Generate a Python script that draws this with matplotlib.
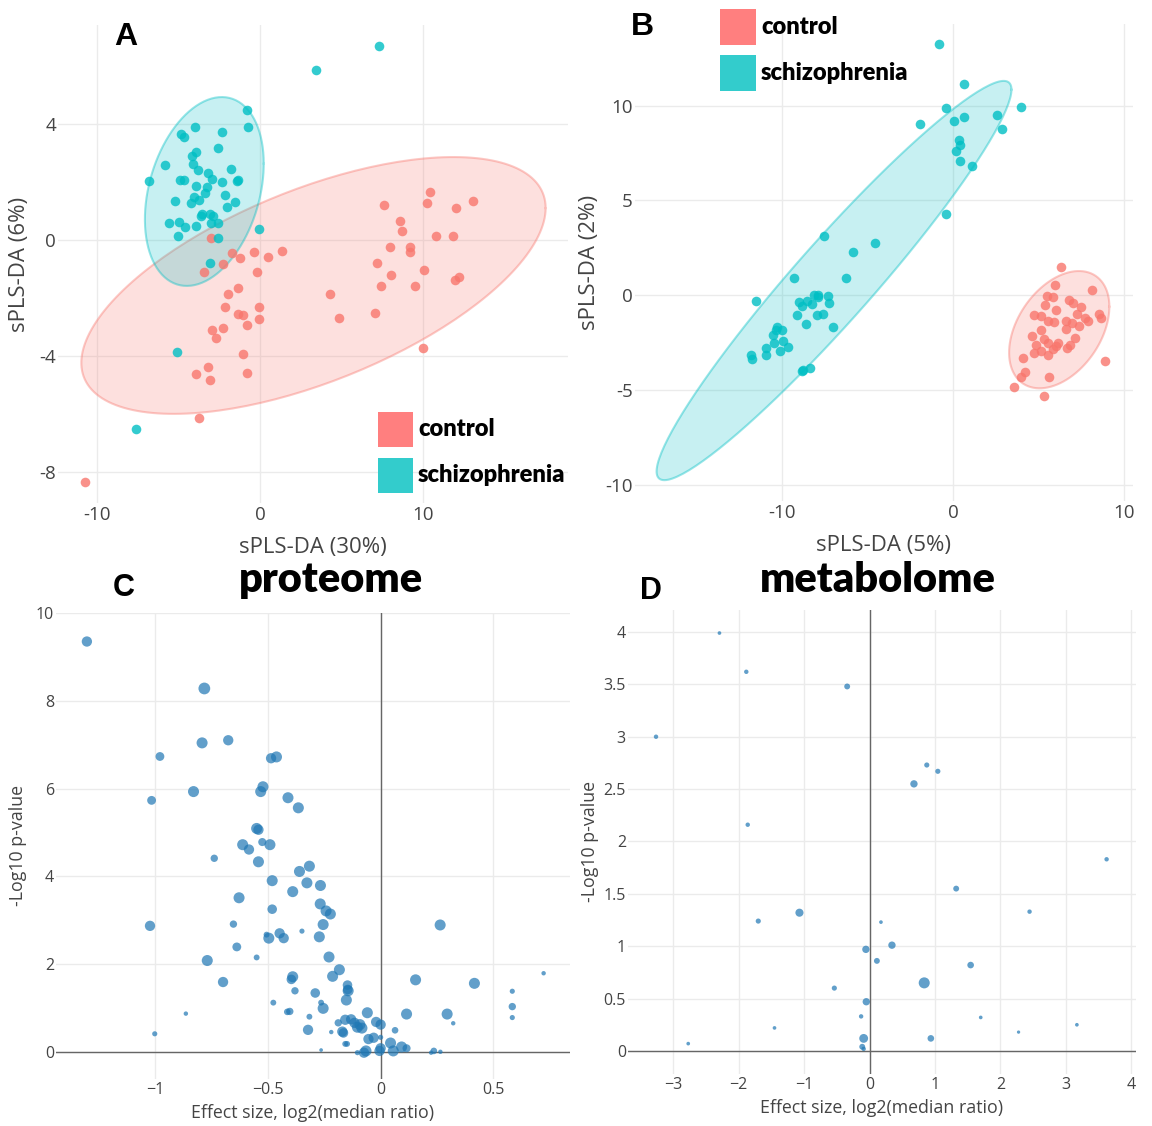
import numpy as np
import matplotlib
matplotlib.use("Agg")
import matplotlib.pyplot as plt
from matplotlib.patches import Rectangle

# ---- data ----
# panel A: sPLS-DA proteome
a_ctrl_x = [-10.73, -3.77, -3.95, -3.2, -3.07, -0.77, -1.06, -2.93, -2.68, -2.25, -2.14, -1.96, -1.38, -1.35,
            -1.04, -0.83, -0.05, -0.07, -0.18, -0.38, 0.47, 1.35, -1.2, -1.71, -2.25, -3.43, -3.04, 4.28, 4.87,
            7.08, 7.17, 7.44, 7.62, 8.0, 8.05, 8.57, 8.73, 9.18, 9.22, 9.54, 9.99, 10.08, 10.24, 10.42, 10.82,
            11.84, 12.02, 11.95, 12.2, 13.08]
a_ctrl_y = [-8.33, -6.13, -4.63, -4.38, -4.82, -4.59, -3.93, -3.09, -3.37, -3.02, -2.31, -1.85, -1.67, -2.57,
            -2.6, -2.95, -2.31, -2.71, -1.11, -0.41, -0.59, -0.38, -0.62, -0.46, -0.84, -1.1, 0.05, -1.87, -2.68,
            -2.51, -0.8, -1.59, 1.22, -0.25, -1.21, 0.65, 0.3, -0.25, -0.43, -1.58, -3.74, -1.02, 1.27, 1.65, 0.12,
            0.12, 1.1, -1.39, -1.27, 1.34]
a_scz_x = [7.33, 3.43, -7.64, -5.1, -6.83, -5.84, -5.19, -5.57, -5.03, -4.98, -4.92, -4.67, -4.85, -4.67, -3.99,
           -4.15, -3.9, -4.13, -3.81, -3.92, -4.22, -4.08, -3.77, -3.4, -3.25, -3.22, -2.95, -3.61, -3.54, -3.09,
           -2.86, -3.02, -2.57, -4.62, -3.95, -2.59, -2.32, -2.35, -2.16, -2.03, -1.8, -1.51, -1.4, -1.33, -0.79,
           -0.74, -0.05, -2.59, -3.07]
a_scz_y = [6.67, 5.86, -6.52, -3.86, 2.03, 2.6, 1.34, 0.59, 0.12, 0.62, 2.08, 2.08, 3.64, 3.54, 3.88, 2.88, 3.04,
           2.62, 2.41, 1.86, 1.29, 1.48, 1.39, 1.62, 1.82, 2.31, 2.1, 0.82, 0.89, 0.89, 0.82, 0.58, 0.58, 0.46,
           0.48, 3.16, 3.72, 1.98, 1.56, 1.12, 2.45, 1.3, 2.02, 2.06, 4.48, 3.88, 0.38, 0.06, -0.78]
a_ctrl_ell = ([3.28, -1.57], [[203.0, 38.0], [38.0, 19.6]])
a_scz_ell = ([-3.42, 1.67], [[13.3, 3.5], [3.5, 10.6]])

# panel B: sPLS-DA metabolome
b_ctrl_x = [6.31, 5.92, 8.09, 5.45, 5.84, 5.36, 6.78, 7.0, 7.47, 5.99, 7.23, 4.72, 5.15, 5.56, 5.88, 6.59, 6.91,
            7.34, 7.7, 7.87, 8.52, 8.61, 6.59, 5.15, 4.59, 5.28, 7.12, 5.56, 6.14, 6.8, 4.83, 5.99, 6.63, 5.84,
            5.11, 4.7, 5.56, 4.08, 8.88, 4.21, 3.95, 5.58, 3.52, 5.28]
b_ctrl_y = [1.47, 0.53, 0.3, -0.06, -0.09, -0.51, -0.23, -0.43, -0.6, -0.75, -0.98, -1.02, -1.07, -1.36, -1.41,
            -1.36, -1.45, -1.64, -1.17, -1.36, -0.98, -1.19, -1.77, -1.85, -2.15, -2.32, -2.26, -2.52, -2.5, -2.64,
            -2.64, -2.67, -2.79, -2.82, -2.96, -3.05, -3.14, -3.28, -3.47, -4.05, -4.29, -4.33, -4.84, -5.31]
b_scz_x = [-0.86, 0.62, -0.45, 3.95, 0.04, 0.6, 2.58, 2.83, -1.93, 0.34, 0.39, 0.17, 0.39, 1.07, -0.45, -7.55,
           -4.55, -5.86, -6.29, -9.33, -11.52, -9.01, -8.84, -8.56, -8.24, -8.13, -7.88, -7.9, -7.32, -7.25, -9.12,
           -8.58, -7.94, -7.64, -7.04, -10.28, -10.0, -10.36, -10.56, -10.47, -9.98, -9.68, -10.97, -10.97,
           -10.13, -11.82, -11.74, -8.76, -8.39, -8.84]
b_scz_y = [13.24, 11.15, 9.87, 9.92, 9.17, 9.42, 9.53, 8.76, 9.02, 8.19, 7.91, 7.61, 7.08, 6.84, 4.29, 3.13, 2.77,
           2.3, 0.92, 0.89, -0.32, -0.34, -0.56, -0.28, -0.45, 0.04, 0.0, -0.11, -0.04, -0.43, -1.02, -1.51, -1.02,
           -0.96, -1.66, -1.69, -1.83, -1.85, -2.11, -2.52, -2.39, -2.73, -2.77, -3.14, -2.92, -3.14, -3.37, -3.94,
           -3.84, -3.99]
b_ctrl_ell = ([6.19, -1.81], [[8.58, 3.55], [3.55, 9.55]])
b_scz_ell = ([-6.97, 0.78], [[107.5, 104.3], [104.3, 110.7]])

groups = ["control", "schizophrenia"]

# panel C: proteome volcano (effect, -log10 p, bubble size)
c_x = [-1.303, -0.782, -0.792, -0.676, -0.979, -0.486, -0.462, -0.83, -1.016, -0.522, -0.532, -0.411, -0.365,
       -0.55, -0.542, -0.612, -0.584, -0.525, -0.491, -0.738, -0.542, -0.316, -0.36, -0.481, -0.327, -0.267,
       -0.39, -0.628, -0.481, -0.268, -0.242, -0.223, -0.653, -0.255, -1.023, -0.349, -0.448, -0.496, -0.43,
       -0.506, -0.272, -0.638, -0.55, -0.229, -0.769, -0.183, -0.213, -0.39, -0.396, -0.699, -0.147, -0.144,
       -0.146, -0.38, -0.29, -0.152, -0.476, -0.264, -0.255, -0.403, -0.414, -0.864, -0.059, 0.115, 0.295,
       -0.316, -0.188, -0.157, -0.131, -0.116, -0.092, -0.103, -0.083, -0.02, 0.0, -0.17, -0.165, -0.322, -0.219,
       0.064, 0.322, -1.002, -0.054, -0.031, -0.157, -0.149, 0.044, 0.093, 0.115, 0.0, -0.005, 0.056, -0.065,
       -0.074, -0.103, 0.0, 0.236, 0.224, 0.265, -0.264, 0.155, 0.264, 0.416, 0.584, 0.584, 0.584, 0.723]
c_y = [9.35, 8.28, 7.04, 7.1, 6.73, 6.69, 6.72, 5.93, 5.73, 6.04, 5.93, 5.79, 5.56, 5.09, 5.06, 4.72, 4.61, 4.78,
       4.72, 4.41, 4.33, 4.23, 4.11, 3.9, 3.85, 3.79, 3.65, 3.51, 3.25, 3.37, 3.21, 3.14, 2.91, 2.9, 2.87, 2.75,
       2.7, 2.59, 2.59, 2.67, 2.62, 2.39, 2.15, 2.16, 2.08, 1.87, 1.72, 1.71, 1.65, 1.59, 1.52, 1.39, 1.42, 1.39,
       1.34, 1.18, 1.12, 1.12, 0.99, 0.92, 0.91, 0.87, 0.89, 0.86, 0.86, 0.8, 0.66, 0.73, 0.74, 0.66, 0.62, 0.56,
       0.54, 0.68, 0.62, 0.46, 0.43, 0.5, 0.45, 0.49, 0.65, 0.41, 0.29, 0.32, 0.18, 0.18, 0.2, 0.11, 0.08, 0.08,
       0.02, 0.02, 0.02, -0.02, -0.02, 0.33, 0.02, -0.02, 0.0, 0.04, 1.64, 2.89, 1.56, 1.38, 1.03, 0.78, 1.79]
c_size = [28, 32, 30, 28, 24, 28, 30, 30, 24, 30, 30, 30, 30, 30, 28, 30, 28, 22, 30, 20, 30, 30, 30, 30, 30, 30,
          30, 30, 26, 30, 30, 30, 20, 30, 28, 14, 28, 30, 28, 16, 30, 24, 16, 30, 30, 30, 30, 30, 26, 28, 26, 30,
          26, 20, 26, 30, 16, 16, 30, 20, 18, 12, 30, 30, 30, 16, 20, 28, 28, 28, 30, 30, 30, 28, 28, 28, 26, 28,
          12, 18, 12, 14, 28, 28, 16, 16, 30, 30, 22, 28, 28, 30, 30, 28, 14, 14, 18, 12, 12, 10, 30, 30, 30, 14,
          20, 14, 12]

# panel D: metabolome volcano
d_x = [-2.293, -1.883, -0.342, -3.262, 0.874, 1.043, 0.678, -1.861, 3.621, 1.323, -1.071, 2.444, -1.70, 0.174,
       0.342, -0.056, 0.112, 1.544, 0.835, -0.538, -0.05, -0.129, 1.698, 3.167, -1.452, 2.276, -0.09, 0.936,
       -0.112, -0.09, -2.77]
d_y = [3.99, 3.62, 3.48, 3.0, 2.73, 2.67, 2.55, 2.16, 1.83, 1.55, 1.32, 1.33, 1.24, 1.23, 1.01, 0.97, 0.86, 0.82,
       0.65, 0.6, 0.47, 0.33, 0.32, 0.25, 0.22, 0.18, 0.12, 0.12, 0.04, 0.02, 0.07]
d_size = [10, 12, 16, 12, 14, 14, 20, 12, 12, 16, 22, 12, 14, 10, 20, 20, 16, 18, 30, 14, 20, 12, 10, 10, 10, 9,
          24, 18, 16, 12, 10]

RED = "#F8766D"
CYAN = "#00BFC4"
BLUE = "#1f77b4"
GRID = "#ebebeb"
TXT = "#444444"

W, H = 1152, 1126
fig = plt.figure(figsize=(W / 100, H / 100), dpi=100)
fig.patch.set_facecolor("white")
plt.rcParams['font.family'] = ['Open Sans', 'DejaVu Sans']


def px_axes(l, t, r, b):
    return fig.add_axes([l / W, 1 - b / H, (r - l) / W, (b - t) / H])


def style(ax, xt, xl, yt, yl, fs):
    for s in ax.spines.values():
        s.set_visible(False)
    ax.set_xticks(xt)
    ax.set_xticklabels(xl)
    ax.set_yticks(yt)
    ax.set_yticklabels(yl)
    ax.tick_params(length=0, labelsize=fs, labelcolor=TXT)
    ax.tick_params(axis="x", pad=2.5)
    ax.tick_params(axis="y", pad=1.5)
    ax.grid(True, color=GRID, lw=1)
    ax.set_axisbelow(True)


def labels(ax, box, xlab, ylab, xy, yx, fs):
    # box = (l, t, r, b) in px; xy = y px of x title centre, yx = x px of y title centre
    l, t, r, b = box
    ax.set_xlabel(xlab, fontsize=fs, color=TXT)
    ax.set_ylabel(ylab, fontsize=fs, color=TXT)
    ax.xaxis.label.set_va("center")
    ax.yaxis.label.set_va("center")
    ax.xaxis.set_label_coords(0.5, (b - xy) / (b - t))
    ax.yaxis.set_label_coords((yx - l) / (r - l), 0.5)


def ellipse(ax, ell, color):
    c, cov = ell
    L = np.linalg.cholesky(np.array(cov))
    t = np.linspace(0, 2 * np.pi, 200)
    pts = (L @ np.vstack([np.cos(t), np.sin(t)])).T + np.array(c)
    ax.fill(pts[:, 0], pts[:, 1], facecolor=color, alpha=0.22, edgecolor="none", zorder=1)
    ax.plot(pts[:, 0], pts[:, 1], color=color, alpha=0.4, lw=1.5, zorder=1)


def legend(x, y, side=36, step=46):
    # coloured squares with bold labels, top-left corner at (x, y) px
    for i, (name, col) in enumerate(zip(groups, ["#FF7F7F", "#33CCCC"])):
        top = y + i * step
        fig.add_artist(Rectangle((x / W, 1 - (top + side) / H), side / W, side / H,
                                 facecolor=col, edgecolor="none", transform=fig.transFigure))
        fig.text((x + side + 5) / W, 1 - (top + side / 2) / H, name, fontsize=17, ha="left", va="center",
                 family=['Lato', 'DejaVu Sans'], weight='heavy')


# ---- A ----
boxA = (58, 25, 568, 503)
axA = px_axes(*boxA)
ellipse(axA, a_ctrl_ell, RED)
ellipse(axA, a_scz_ell, CYAN)
axA.scatter(a_ctrl_x, a_ctrl_y, s=48, color=RED, alpha=0.8, lw=0, zorder=3)
axA.scatter(a_scz_x, a_scz_y, s=48, color=CYAN, alpha=0.8, lw=0, zorder=3)
axA.set_xlim(-12.4, 18.9)
axA.set_ylim(-9.07, 7.41)
style(axA, [-10, 0, 10], ["-10", "0", "10"], [-8, -4, 0, 4], ["-8", "-4", "0", "4"], 13.5)
labels(axA, boxA, "sPLS-DA (30%)", "sPLS-DA (6%)", 548, 20, 16)
legend(378, 412, side=35)

# ---- B ----
boxB = (635, 24, 1133, 501)
axB = px_axes(*boxB)
ellipse(axB, b_ctrl_ell, RED)
ellipse(axB, b_scz_ell, CYAN)
axB.scatter(b_ctrl_x, b_ctrl_y, s=48, color=RED, alpha=0.8, lw=0, zorder=3)
axB.scatter(b_scz_x, b_scz_y, s=48, color=CYAN, alpha=0.8, lw=0, zorder=3)
axB.set_xlim(-18.6, 10.5)
axB.set_ylim(-10.84, 14.3)
style(axB, [-10, 0, 10], ["-10", "0", "10"], [-10, -5, 0, 5, 10], ["-10", "-5", "0", "5", "10"], 13.5)
labels(axB, boxB, "sPLS-DA (5%)", "sPLS-DA (2%)", 546, 590, 16)
legend(720, 9, side=36)

# ---- C ----
boxC = (56, 613, 570, 1079)
axC = px_axes(*boxC)
axC.axhline(0, color="#666666", lw=1, zorder=2)
axC.axvline(0, color="#666666", lw=1, zorder=2)
axC.scatter(c_x, c_y, s=(np.array(c_size) * 0.265) ** 2, color=BLUE, alpha=0.7, lw=0, zorder=3)
axC.set_xlim(-1.44, 0.84)
axC.set_ylim(-0.62, 10.0)
style(axC, [-1, -0.5, 0, 0.5], ["\u22121", "\u22120.5", "0", "0.5"], [0, 2, 4, 6, 8, 10],
      ["0", "2", "4", "6", "8", "10"], 11.5)
labels(axC, boxC, "Effect size, log2(median ratio)", "-Log10 p-value", 1113, 18, 12.8)

# ---- D ----
boxD = (628, 610, 1136, 1074)
axD = px_axes(*boxD)
axD.axhline(0, color="#666666", lw=1, zorder=2)
axD.axvline(0, color="#666666", lw=1, zorder=2)
axD.scatter(d_x, d_y, s=(np.array(d_size) * 0.265) ** 2, color=BLUE, alpha=0.7, lw=0, zorder=3)
axD.set_xlim(-3.69, 4.07)
axD.set_ylim(-0.22, 4.21)
dyt = [0, 0.5, 1, 1.5, 2, 2.5, 3, 3.5, 4]
style(axD, [-3, -2, -1, 0, 1, 2, 3, 4], ["\u22123", "\u22122", "\u22121", "0", "1", "2", "3", "4"],
      dyt, ["0", "0.5", "1", "1.5", "2", "2.5", "3", "3.5", "4"], 11.5)
labels(axD, boxD, "Effect size, log2(median ratio)", "-Log10 p-value", 1108, 590, 12.8)

# ---- letters and titles ----
letter = {'family': ['Liberation Sans', 'DejaVu Sans'], 'weight': 'bold'}
title = {'family': ['Lato', 'DejaVu Sans'], 'weight': 'heavy'}
fig.text(126 / W, 1 - 37 / H, "A", fontsize=23, ha="center", va="center", **letter)
fig.text(642 / W, 1 - 27 / H, "B", fontsize=23, ha="center", va="center", **letter)
fig.text(124 / W, 1 - 588 / H, "C", fontsize=22, ha="center", va="center", **letter)
fig.text(651 / W, 1 - 591 / H, "D", fontsize=22, ha="center", va="center", **letter)
fig.text(331 / W, 1 - 580 / H, "proteome", fontsize=30, ha="center", va="center", **title)
fig.text(878 / W, 1 - 580 / H, "metabolome", fontsize=30, ha="center", va="center", **title)

fig.savefig("out.png", dpi=100)
